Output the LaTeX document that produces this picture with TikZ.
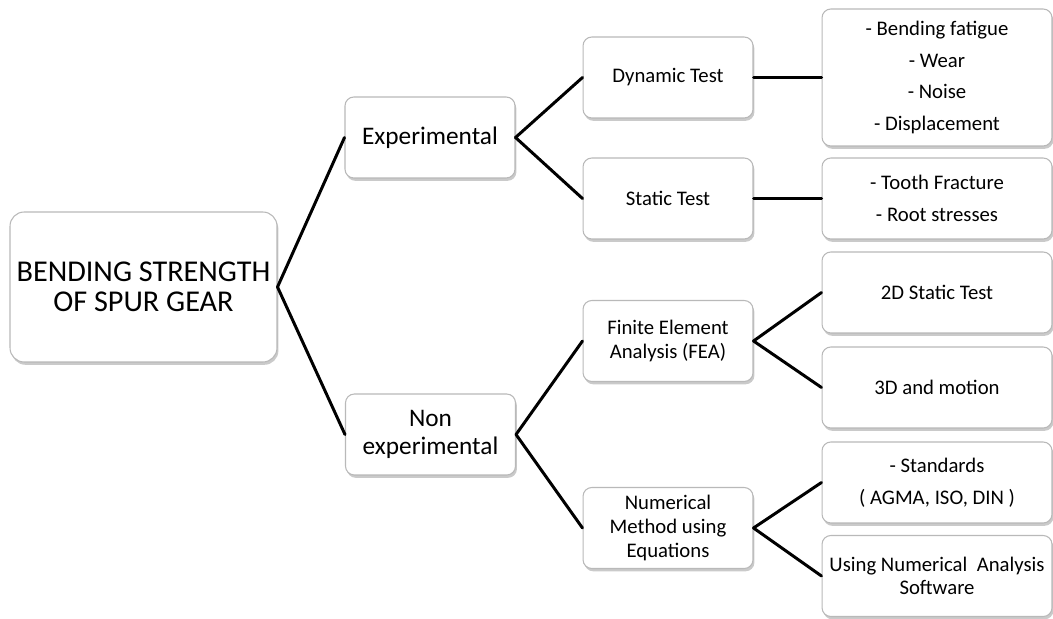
\documentclass[tikz,border=0pt]{standalone}
\usepackage{fontspec}
\setmainfont{Carlito}
\usetikzlibrary{shadows}

\begin{document}
\begin{tikzpicture}[
		x=0.02cm, y=-0.02cm,
		scatola/.style={draw=gray!55, fill=white, line width=0.6pt,
			rounded corners=5pt, align=center, inner sep=2pt,
			drop shadow={shadow xshift=0.8pt, shadow yshift=-1.6pt,
				opacity=0.35, fill=black!60}},
		radice/.style={scatola, rounded corners=8pt,
			minimum width=5.34cm, minimum height=3cm,
			font=\fontsize{17.2}{16.8}\selectfont},
		livello/.style={scatola, minimum width=3.4cm, minimum height=1.62cm,
			font=\fontsize{14.4}{16}\selectfont},
		prova/.style={scatola, minimum width=3.4cm, minimum height=1.62cm,
			font=\fontsize{11.8}{13.5}\selectfont},
		esito/.style={scatola, minimum width=4.6cm, minimum height=1.62cm,
			font=\fontsize{11.8}{18}\selectfont},
		ramo/.style={line width=1.7pt, black, line cap=round}]
	
	\useasboundingbox (0,0) rectangle (1053,618);
	
	%% --- radice ---
	\node[radice] (root) at (143.5,287) {BENDING STRENGTH\\OF SPUR GEAR};
	
	%% --- primo livello ---
	\node[livello] (expe) at (430,137.5) {Experimental};
	\node[livello] (nonexp) at (430.5,434.5) {Non\\experimental};
	
	%% --- secondo livello ---
	\node[prova] (dyn)  at (668,77.5)  {Dynamic Test};
	\node[prova] (stat) at (668,198.5) {Static Test};
	\node[prova] (fea)  at (668,341)   {Finite Element\\Analysis (FEA)};
	\node[prova] (num)  at (668,528)   {Numerical\\Method using\\Equations};
	
	%% --- terzo livello ---
	\node[esito, minimum height=2.74cm] (bend) at (937,77.5)
		{- Bending fatigue\\- Wear\\- Noise\\- Displacement};
	\node[esito] (tooth)  at (937,198.5) {- Tooth Fracture\\- Root stresses};
	\node[esito] (twod)   at (937,292.5) {2D Static Test};
	\node[esito] (threed) at (937,387.5) {3D and motion};
	\node[esito] (stand)  at (937,482.5) {- Standards\\( AGMA, ISO, DIN )};
	\node[esito, font=\fontsize{11.8}{13.5}\selectfont] (soft) at (937,576)
		{Using Numerical\ \ Analysis\\Software};
	
	%% --- rami ---
	\draw[ramo] (root.east) -- (expe.west);
	\draw[ramo] (root.east) -- (nonexp.west);
	\draw[ramo] (expe.east) -- (dyn.west);
	\draw[ramo] (expe.east) -- (stat.west);
	\draw[ramo] (nonexp.east) -- (fea.west);
	\draw[ramo] (nonexp.east) -- (num.west);
	\draw[ramo] (dyn.east) -- (bend.west);
	\draw[ramo] (stat.east) -- (tooth.west);
	\draw[ramo] (fea.east) -- (twod.west);
	\draw[ramo] (fea.east) -- (threed.west);
	\draw[ramo] (num.east) -- (stand.west);
	\draw[ramo] (num.east) -- (soft.west);
	
\end{tikzpicture}
\end{document}
